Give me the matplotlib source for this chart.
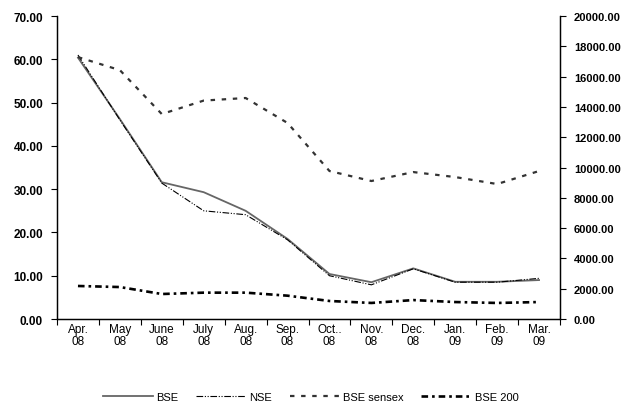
import matplotlib.pyplot as plt

# monthly values, Apr 2008 - Mar 2009
months = ['Apr.\n08', 'May\n08', 'June\n08', 'July\n08', 'Aug.\n08', 'Sep.\n08',
          'Oct..\n08', 'Nov.\n08', 'Dec.\n08', 'Jan.\n09', 'Feb.\n09', 'Mar.\n09']
bse = [60.4, 46.2, 31.6, 29.3, 25.0, 18.5, 10.4, 8.5, 11.7, 8.6, 8.6, 9.0]
nse = [61.0, 46.0, 31.4, 25.0, 24.1, 18.3, 10.0, 7.9, 11.6, 8.5, 8.5, 9.4]
sensex = [17290, 16430, 13530, 14420, 14590, 12940, 9770, 9110, 9700, 9370, 8910, 9770]
bse200 = [2180, 2110, 1650, 1740, 1740, 1540, 1190, 1060, 1250, 1120, 1060, 1120]

plt.rcParams['font.family'] = ['Liberation Sans', 'DejaVu Sans']

fig = plt.figure(figsize=(6.21, 4.06), dpi=100)
ax = fig.add_axes([0.0918, 0.2118, 0.81, 0.7462])
ax2 = ax.twinx()

x = list(range(len(months)))

l1, = ax.plot(x, bse, color='#666666', lw=1.3, label='BSE')
l2, = ax.plot(x, nse, color='black', lw=0.8, dashes=(6, 1.5, 1, 1.5, 1, 1.5), label='NSE')
l3, = ax2.plot(x, sensex, color='#333333', lw=1.6, dashes=(2, 3), label='BSE sensex')
l4, = ax2.plot(x, bse200, color='black', lw=1.9, dashes=(2.5, 1.5, 1, 1.5), label='BSE 200')

ax.set_ylim(0, 70)
ax2.set_ylim(0, 20000)
ax.set_xlim(-0.5, 11.5)
ax.set_yticks(range(0, 71, 10))
ax.set_yticklabels(['%.2f' % v for v in range(0, 71, 10)], fontweight='bold', fontsize=8.5)
ax2.set_yticks(range(0, 20001, 2000))
ax2.set_yticklabels(['%.2f' % v for v in range(0, 20001, 2000)], fontweight='bold', fontsize=8)

# category boundaries as ticks, labels in the middle
ax.set_xticks([i - 0.5 for i in range(13)])
ax.set_xticklabels([])
ax.set_xticks(x, minor=True)
ax.set_xticklabels(months, minor=True, fontsize=8.5, linespacing=0.95)
ax.tick_params(axis='x', which='minor', length=0, pad=3)
ax.tick_params(axis='x', which='major', length=4, direction='out', width=0.8)
ax.tick_params(axis='y', length=4, width=0.8, pad=6)
ax2.tick_params(axis='y', length=4, width=0.8, pad=6)

for a in (ax, ax2):
    a.spines['top'].set_visible(False)
    for s in a.spines.values():
        s.set_linewidth(0.9)

fig.legend(handles=[l1, l2, l3, l4], loc='lower center', ncol=4, frameon=False,
           bbox_to_anchor=(0.5, -0.018), fontsize=8, handlelength=4.5, columnspacing=1.6,
           handletextpad=0.3)

plt.savefig('out.png', dpi=100)
